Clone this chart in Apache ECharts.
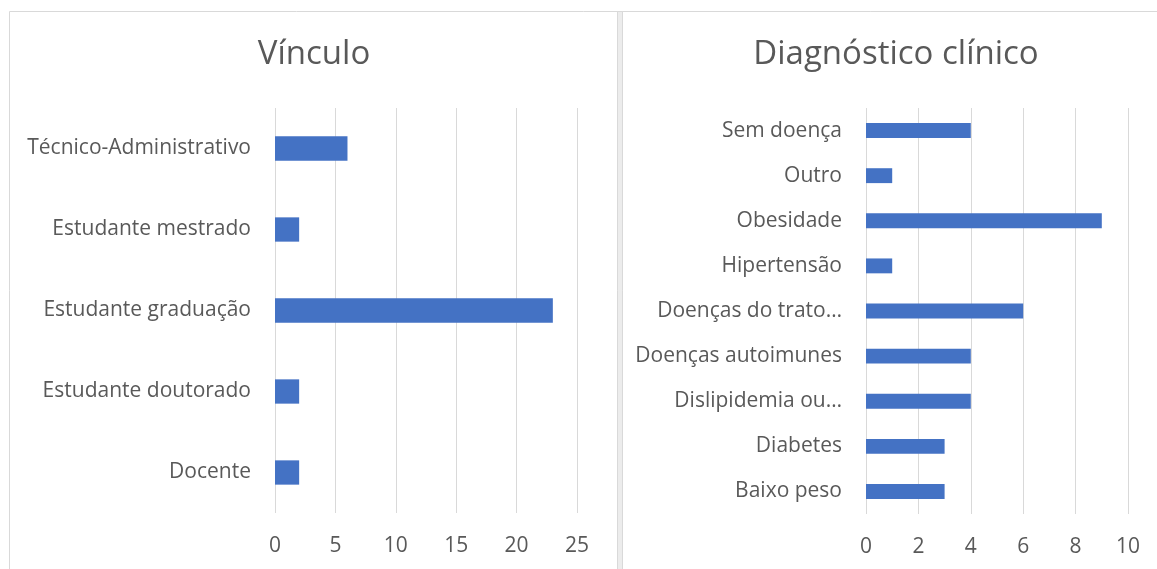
<!DOCTYPE html>
<html>
<head>
<meta charset="utf-8">
<script src="https://cdn.jsdelivr.net/npm/echarts@6/dist/echarts.min.js"></script>
<style>
  html, body { margin: 0; padding: 0; background: #fff; }
  #chart { width: 1157px; height: 569px; }
</style>
</head>
<body>
<div id="chart"></div>
<script>
// Vínculo
const vinculoCats = ["Docente", "Estudante doutorado", "Estudante graduação", "Estudante mestrado", "Técnico-Administrativo"];
const vinculoVals = [2, 2, 23, 2, 6];
// Diagnóstico clínico
const diagCats = ["Baixo peso", "Diabetes", "Dislipidemia ou…", "Doenças autoimunes", "Doenças do trato…", "Hipertensão", "Obesidade", "Outro", "Sem doença"];
const diagVals = [3, 3, 4, 4, 6, 1, 9, 1, 4];

const font = "Open Sans";
const txt = "#595959";
const gridCol = "#d9d9d9";
const barCol = "#4472c4";

function xAxis(idx, max, step) {
  return {
    type: "value", gridIndex: idx, min: 0, max: max, interval: step,
    axisLine: { show: false }, axisTick: { show: false },
    axisLabel: { color: txt, fontSize: 21, fontFamily: font, margin: 23 },
    splitLine: { lineStyle: { color: gridCol, width: 1 } }
  };
}
function yAxis(idx, cats) {
  return {
    type: "category", gridIndex: idx, data: cats,
    axisLine: { show: false }, axisTick: { show: false },
    axisLabel: { color: txt, fontSize: 21, fontFamily: font, margin: 24 }
  };
}

const chart = echarts.init(document.getElementById("chart"));
chart.setOption({
  animation: false,
  textStyle: { fontFamily: font },
  graphic: [
    // panel frames
    { type: "rect", shape: { x: 9.5, y: 11.5, width: 1160, height: 570 }, style: { fill: "none", stroke: gridCol, lineWidth: 1 } },
    { type: "rect", shape: { x: 617.5, y: 11.5, width: 5, height: 570 }, style: { fill: "#ececec", stroke: gridCol, lineWidth: 1 } }
  ],
  title: [
    { text: "Vínculo", left: 309, top: 33, textAlign: "center", textStyle: { color: txt, fontSize: 33, fontWeight: "normal", fontFamily: font } },
    { text: "Diagnóstico clínico", left: 891, top: 33, textAlign: "center", textStyle: { color: txt, fontSize: 33, fontWeight: "normal", fontFamily: font } }
  ],
  grid: [
    { left: 275, top: 108, width: 302, height: 405, containLabel: false },
    { left: 866, top: 108, width: 262, height: 406, containLabel: false }
  ],
  xAxis: [xAxis(0, 25, 5), xAxis(1, 10, 2)],
  yAxis: [yAxis(0, vinculoCats), yAxis(1, diagCats)],
  series: [
    { type: "bar", xAxisIndex: 0, yAxisIndex: 0, data: vinculoVals, barCategoryGap: "70%", itemStyle: { color: barCol } },
    { type: "bar", xAxisIndex: 1, yAxisIndex: 1, data: diagVals, barCategoryGap: "67%", itemStyle: { color: barCol } }
  ]
});
</script>
</body>
</html>
